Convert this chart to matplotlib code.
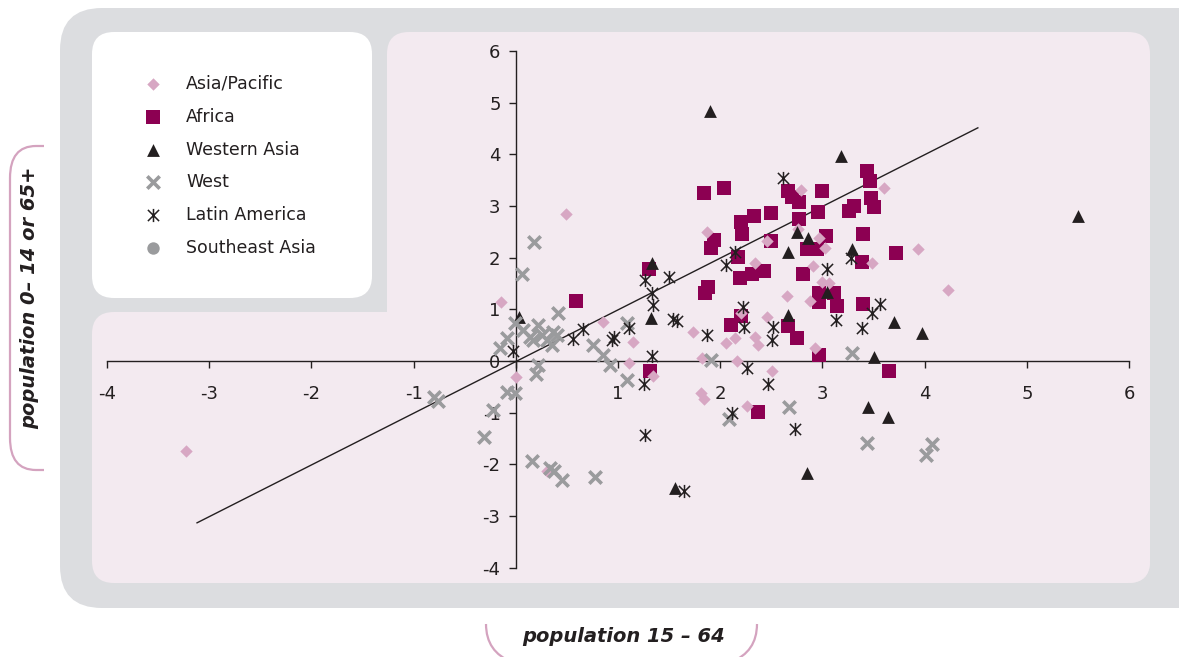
import matplotlib
matplotlib.use("Agg")
import matplotlib.pyplot as plt
from matplotlib.patches import FancyBboxPatch, PathPatch
from matplotlib.path import Path

plt.rcParams['axes.unicode_minus'] = False

# ---------------- data ----------------
series_names = ["Asia/Pacific", "Africa", "Western Asia", "West", "Latin America", "Southeast Asia"]

asia_x = [-3.23, -0.15, 0.49, 0.00, 0.85, 1.15, 1.11, 1.34, 0.30, 1.73, 2.06, 2.14, 1.82, 2.16, 2.34, 2.37,
          2.46, 2.51, 2.65, 2.88, 2.93, 3.00, 3.06, 1.81, 1.84, 2.26, 2.20, 1.87, 2.79, 3.60, 2.46, 2.34,
          2.97, 3.02, 2.91, 3.48, 3.93, 2.76, 4.23]
asia_y = [-1.75, 1.15, 2.85, -0.31, 0.76, 0.37, -0.04, -0.29, -2.12, 0.56, 0.35, 0.45, 0.06, 0.00, 0.47, 0.30,
          0.86, -0.19, 1.26, 1.17, 0.25, 1.53, 1.51, -0.62, -0.74, -0.87, 0.93, 2.49, 3.30, 3.34, 2.33, 1.90,
          2.37, 2.19, 1.83, 1.90, 2.17, 2.55, 1.37]

africa_x = [0.59, 1.31, 1.30, 1.84, 2.04, 2.20, 2.21, 2.33, 2.50, 2.50, 1.94, 1.91, 2.17, 2.19, 2.31, 2.43,
            1.88, 1.85, 2.66, 2.70, 2.77, 2.77, 2.96, 3.00, 3.03, 2.85, 2.95, 2.81, 3.44, 3.46, 3.47, 3.50,
            3.26, 3.31, 3.40, 3.39, 3.72, 2.97, 3.11, 2.10, 2.20, 2.66, 2.75, 2.97, 3.14, 3.40, 2.97, 3.65, 2.37]
africa_y = [1.17, -0.19, 1.77, 3.24, 3.34, 2.68, 2.45, 2.80, 2.87, 2.33, 2.35, 2.19, 2.02, 1.61, 1.69, 1.75,
            1.44, 1.32, 3.28, 3.18, 3.07, 2.74, 2.89, 3.28, 2.41, 2.16, 2.17, 1.69, 3.67, 3.48, 3.16, 2.97,
            2.91, 2.99, 2.45, 1.92, 2.08, 1.32, 1.32, 0.70, 0.87, 0.68, 0.45, 1.15, 1.07, 1.11, 0.12, -0.19, -0.99]

wasia_x = [0.03, 1.32, 1.56, 1.90, 3.18, 1.33, 2.75, 2.86, 2.66, 3.29, 3.04, 2.66, 3.70, 3.97, 3.50, 3.45,
           3.64, 2.85, 5.50]
wasia_y = [0.85, 0.83, -2.45, 4.83, 3.96, 1.90, 2.50, 2.37, 2.10, 2.16, 1.34, 0.89, 0.76, 0.55, 0.08, -0.89,
           -1.09, -2.17, 2.80]

west_x = [-0.80, -0.76, -0.31, -0.22, -0.09, -0.01, 0.16, 0.33, 0.37, 0.45, 0.77, 0.22, 0.20, -0.16, -0.09,
          -0.01, 0.07, 0.14, 0.17, 0.22, 0.26, 0.30, 0.36, 0.40, 0.41, 0.35, 0.75, 0.85, 0.92, 1.09, 1.09,
          0.18, 0.06, 1.91, 2.09, 2.67, 3.29, 3.44, 4.01, 4.07]
west_y = [-0.70, -0.78, -1.47, -0.95, -0.60, -0.62, -1.94, -2.06, -2.13, -2.31, -2.25, -0.08, -0.25, 0.25, 0.45,
          0.74, 0.60, 0.47, 0.41, 0.70, 0.50, 0.41, 0.56, 0.50, 0.93, 0.31, 0.31, 0.12, -0.08, -0.37, 0.74,
          2.31, 1.69, 0.02, -1.13, -0.89, 0.15, -1.59, -1.81, -1.61]

latam_x = [-0.03, 0.56, 0.66, 0.94, 0.96, 1.11, 1.33, 1.25, 1.26, 1.34, 1.33, 1.26, 1.54, 1.58, 1.50, 2.61,
           2.14, 2.06, 3.04, 3.28, 1.87, 2.22, 2.23, 2.26, 2.47, 2.52, 2.51, 3.13, 3.39, 3.48, 3.56, 2.73,
           2.11, 1.64]
latam_y = [0.19, 0.43, 0.62, 0.41, 0.47, 0.64, 0.10, -0.45, -1.44, 1.09, 1.32, 1.57, 0.82, 0.78, 1.62, 3.53,
           2.10, 1.86, 1.77, 2.00, 0.50, 1.05, 0.66, -0.14, -0.45, 0.66, 0.41, 0.80, 0.64, 0.93, 1.11, -1.32,
           -1.01, -2.52]

seasia_x = []
seasia_y = []

trend_x = [-3.12, 4.52]
trend_y = [-3.13, 4.51]

axis_ticks = [-4, -3, -2, -1, 0, 1, 2, 3, 4, 5, 6]
x_tick_labels = ["-4", "-3", "-2", "-1", "", "1", "2", "3", "4", "5", "6"]
y_tick_labels = ["-4", "-3", "-2", "-1", "0", "1", "2", "3", "4", "5", "6"]

x_label = "population 15 – 64"
y_label = "population 0– 14 or 65+"

# ---------------- styles ----------------
C_PINK = "#d7a7c3"
C_AFR = "#8c0052"
C_BLACK = "#231f20"
C_GRAY = "#9a9b9d"
C_SEA = "#9a9b9d"
C_BG_GRAY = "#dcdde0"
C_PANEL = "#f3eaf0"
C_BRACKET = "#d4a3bf"

star = Path([(0, -1), (0, 1), (-0.85, -0.85), (0.85, 0.85), (-0.85, 0.85), (0.85, -0.85)],
            [Path.MOVETO, Path.LINETO] * 3)

styles = {
    "Asia/Pacific": dict(marker="D", s=40, color=C_PINK, linewidths=0),
    "Africa": dict(marker="s", s=100, color=C_AFR, linewidths=0),
    "Western Asia": dict(marker="^", s=85, color=C_BLACK, linewidths=0),
    "West": dict(marker="x", s=80, color=C_GRAY, linewidths=2.6),
    "Latin America": dict(marker=star, s=90, color=C_BLACK, linewidths=1.1),
    "Southeast Asia": dict(marker="o", s=80, color=C_SEA, linewidths=0),
}

W, H = 1179, 657
fig = plt.figure(figsize=(W / 100, H / 100), dpi=100)
fig.patch.set_facecolor("white")

bg = fig.add_axes([0, 0, 1, 1])
bg.set_xlim(0, W)
bg.set_ylim(H, 0)
bg.axis("off")


def rbox(x0, y0, x1, y1, r, color, z):
    p = FancyBboxPatch((x0 + r, y0 + r), (x1 - x0 - 2 * r), (y1 - y0 - 2 * r),
                       boxstyle=f"round,pad={r},rounding_size={r}",
                       facecolor=color, edgecolor="none", zorder=z)
    bg.add_patch(p)


rbox(60, 8, 1230, 608, 42, C_BG_GRAY, 1)
rbox(387, 32, 1150, 583, 22, C_PANEL, 2)
rbox(92, 312, 1150, 583, 22, C_PANEL, 2)
rbox(92, 32, 372, 298, 22, "white", 2)

# brackets around axis titles
ybr = Path([(44, 146), (36, 146), (10, 146), (10, 178), (10, 438), (10, 470), (36, 470), (44, 470)],
           [Path.MOVETO, Path.LINETO, Path.CURVE3, Path.CURVE3, Path.LINETO, Path.CURVE3, Path.CURVE3, Path.LINETO])
bg.add_patch(PathPatch(ybr, facecolor="none", edgecolor=C_BRACKET, lw=1.6, zorder=3))
xbl = Path([(486, 624), (486, 652), (512, 662)], [Path.MOVETO, Path.CURVE3, Path.CURVE3])
xbr = Path([(757, 624), (757, 652), (731, 662)], [Path.MOVETO, Path.CURVE3, Path.CURVE3])
for pth in (xbl, xbr):
    bg.add_patch(PathPatch(pth, facecolor="none", edgecolor=C_BRACKET, lw=1.6, zorder=3))

bg.text(624, 637, x_label, ha="center", va="center", fontsize=14, fontweight="bold",
        fontstyle="italic", color=C_BLACK, zorder=4)
bg.text(30, 298, y_label, ha="center", va="center", rotation=90, fontsize=14, fontweight="bold",
        fontstyle="italic", color=C_BLACK, zorder=4)

# legend (drawn in panel)
leg_y0, leg_dy = 84, 32.8
for i, name in enumerate(series_names):
    st = styles[name]
    yy = leg_y0 + i * leg_dy
    bg.scatter([153], [yy], zorder=5, **st)
    bg.text(186, yy, name, ha="left", va="center", fontsize=12.5, color=C_BLACK, zorder=5)

# ---------------- data axes ----------------
px_x0, px_per_x = 515.9, 102.2
px_y0, px_per_y = 361.0, 51.7
ax = fig.add_axes([92 / W, 1 - 583 / H, (1150 - 92) / W, (583 - 32) / H])
ax.patch.set_alpha(0)
ax.set_xlim((92 - px_x0) / px_per_x, (1150 - px_x0) / px_per_x)
ax.set_ylim((px_y0 - 583) / px_per_y, (px_y0 - 32) / px_per_y)

for s in ("top", "right"):
    ax.spines[s].set_visible(False)
ax.spines["left"].set_position(("data", 0))
ax.spines["bottom"].set_position(("data", 0))
ax.spines["left"].set_bounds(-4, 6)
ax.spines["bottom"].set_bounds(-4, 6)
for s in ("left", "bottom"):
    ax.spines[s].set_color(C_BLACK)
    ax.spines[s].set_linewidth(1.0)

ax.set_xticks(axis_ticks)
ax.set_xticklabels(x_tick_labels)
ax.set_yticks(axis_ticks)
ax.set_yticklabels(y_tick_labels)
ax.tick_params(axis="x", direction="out", length=5, width=1, pad=12, labelsize=13, colors=C_BLACK)
ax.tick_params(axis="y", direction="out", length=5, width=1, pad=6, labelsize=13, colors=C_BLACK)

ax.plot(trend_x, trend_y, color=C_BLACK, lw=1.0, zorder=2)

data = {
    "Africa": (africa_x, africa_y),
    "Asia/Pacific": (asia_x, asia_y),
    "Western Asia": (wasia_x, wasia_y),
    "West": (west_x, west_y),
    "Latin America": (latam_x, latam_y),
    "Southeast Asia": (seasia_x, seasia_y),
}
for z, name in enumerate(["Africa", "Asia/Pacific", "Western Asia", "West", "Latin America", "Southeast Asia"]):
    xs, ys = data[name]
    if len(xs):
        ax.scatter(xs, ys, zorder=3 + z, clip_on=False, **styles[name])

fig.savefig("out.png", dpi=100)
